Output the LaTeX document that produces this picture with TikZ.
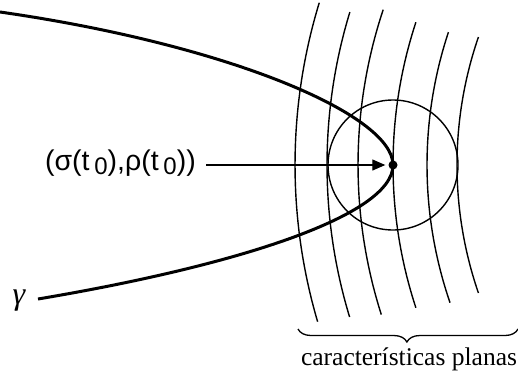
\documentclass[tikz,border=0pt]{standalone}
\usepackage{fontspec}
\setmainfont{Liberation Serif}
\newfontfamily\labfont{Liberation Sans}
\usetikzlibrary{arrows.meta,decorations.pathreplacing}
\begin{document}
\begin{tikzpicture}[x=1pt,y=-1pt,
  arcline/.style={line width=1.4pt},
  curveline/.style={line width=3pt},
  lab/.style={font=\labfont\fontsize{28.5}{31}\selectfont, inner sep=0pt}]
\useasboundingbox (0,0) rectangle (518,381);
\coordinate (C) at (850,165);
\coordinate (P) at (393,165);
% plane characteristics
\draw[arcline] (C) ++(163.6:555) arc (163.6:197:555);
\draw[arcline] (C) ++(163.1:523) arc (163.1:197:523);
\draw[arcline] (C) ++(162.3:492) arc (162.3:198.4:492);
\draw[arcline] (C) ++(161.8:457) arc (161.8:198.2:457);
\draw[arcline] (C) ++(161:423) arc (161:198.3:423);
\draw[arcline] (C) ++(161:393) arc (161:199:393);
% circle
\draw[arcline] (P) circle (65);
% curve gamma
\node[inner sep=0pt, font=\itshape\fontsize{32}{34}\selectfont] (g) at (19,301) {γ};
\coordinate (gs) at (0,12);
\coordinate (ge) at (38,299);
\draw[curveline] (gs) .. controls (230,45) and (393,115) .. (P)
  .. controls (393,215) and (240,265) .. (ge);
% point
\node[circle, fill, inner sep=0pt, minimum size=9pt] (p) at (P) {};
% label and arrow
\node[lab, anchor=east] (l) at (196,163) {(σ(t\,\raisebox{-0.3ex}{\fontsize{24}{26}\selectfont 0}),ρ(t\,\raisebox{-0.3ex}{\fontsize{24}{26}\selectfont 0}))};
\draw[line width=1.2pt, -{Triangle[length=13pt,width=11pt]}, shorten <=10pt, shorten >=3pt] (l.east |- P) -- (p.west);
% brace
\coordinate (b1) at (298,329);
\coordinate (b2) at (518,329);
\draw[line width=1.3pt, decorate, decoration={brace, mirror, amplitude=13pt, aspect=0.495}] (b1) -- (b2);
\node[font=\fontsize{25.5}{28}\selectfont, inner sep=0pt, anchor=base] (cap) at (409,365) {características planas};
\end{tikzpicture}
\end{document}
